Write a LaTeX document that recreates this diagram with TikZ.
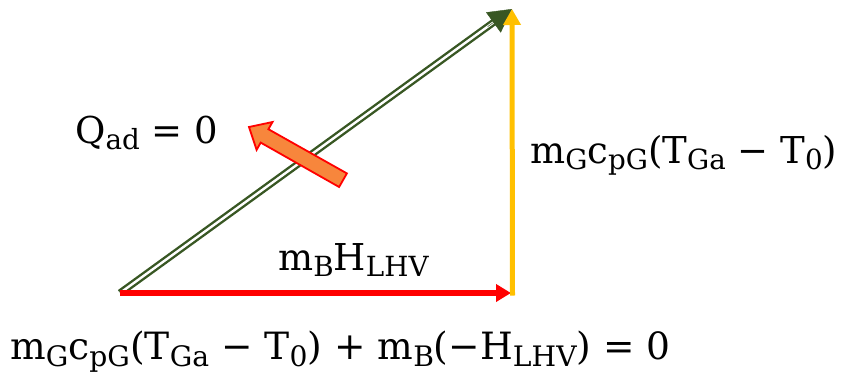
\documentclass[tikz,border=0pt]{standalone}
\usepackage{fontspec}
\setmainfont{DejaVu Serif}
\usetikzlibrary{arrows.meta,calc}
\definecolor{dkgreen}{RGB}{56,87,35}
\definecolor{gold}{RGB}{255,192,0}
\definecolor{orng}{RGB}{247,134,60}
\newcommand\lsub[1]{\scalebox{0.75}{\raisebox{-0.25em}{#1}}}
\begin{document}
\begin{tikzpicture}[x=1pt,y=-1pt,
  lbl/.style={inner sep=0pt, anchor=base west, font=\fontsize{37}{44}\selectfont},
  vecred/.style={draw=red, line width=5.5pt, -{Triangle[length=15pt,width=17pt]}},
  vecgold/.style={draw=gold, line width=5pt, -{Triangle[length=16pt,width=17pt]}},
  vecgreen/.style={draw=dkgreen, double=white, line width=2.4pt, double distance=2.4pt, shorten >=18pt},
  greenhead/.style={draw=dkgreen, fill=dkgreen, line width=0.4pt, -{Triangle[length=23pt,width=25pt]}},
  blockarrow/.style={draw=red, fill=orng, line width=1.8pt, line join=miter}]
\useasboundingbox (0,0) rectangle (841,372);
\coordinate (O) at (120,293);
\coordinate (R) at (511,293);
\coordinate (B) at (512.5,295.5);
\coordinate (Tp) at (512,9);
% vectors
\draw[vecgreen] (O) -- (Tp);
\draw[greenhead] ($(Tp)!30pt!(O)$) -- (Tp);
\draw[vecred] (O) -- (R);
\draw[vecgold] (B) -- (Tp);
% block arrow
\draw[blockarrow] (249,127) -- (272.5,122) -- (268.4,129.2) -- (346.9,173.4)
  -- (339.1,187.0) -- (260.7,142.6) -- (256.6,149.9) -- cycle;
% labels
\node[lbl] (qad) at (75,143) {Q\lsub{ad} = 0};
\node[lbl] (yl) at (530,163) {m\lsub{G}c\lsub{pG}(T\lsub{Ga} − T\lsub{0})};
\node[lbl] (rl) at (278,270) {m\lsub{B}H\lsub{LHV}};
\node[lbl, font=\fontsize{37.6}{44}\selectfont] (eq) at (10,359) {m\lsub{G}c\lsub{pG}(T\lsub{Ga} − T\lsub{0}) + m\lsub{B}(−H\lsub{LHV}) = 0};
\end{tikzpicture}
\end{document}
